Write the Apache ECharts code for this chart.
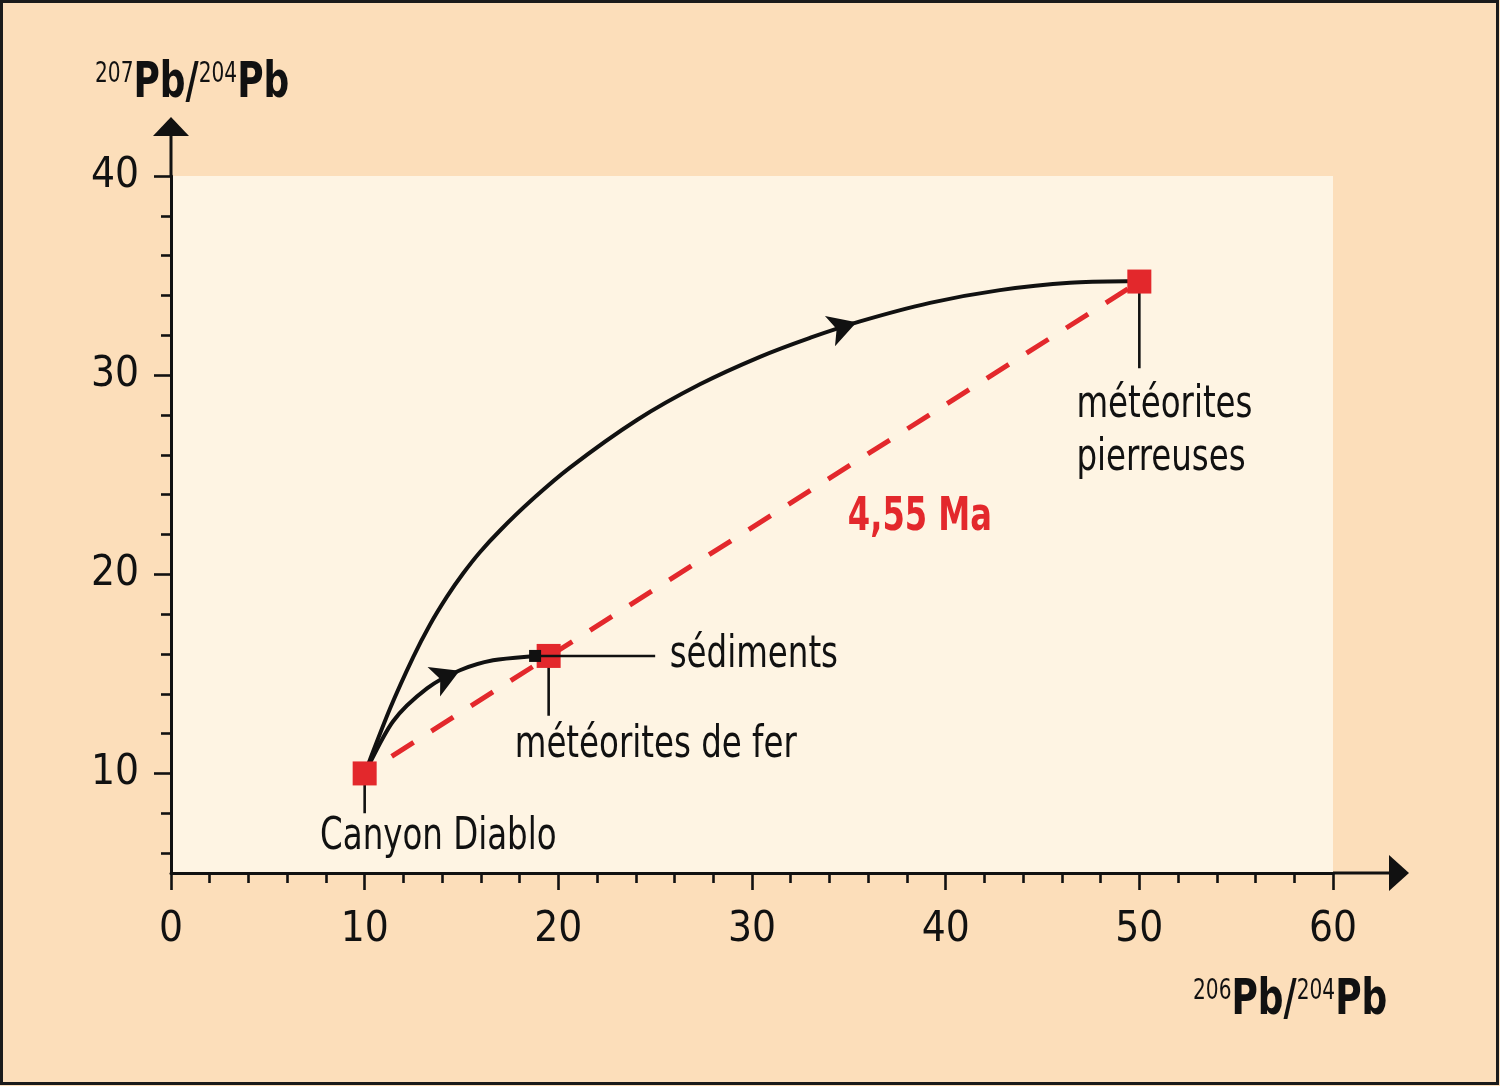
<!DOCTYPE html>
<html><head><meta charset="utf-8">
<script src="https://cdn.jsdelivr.net/npm/echarts@6/dist/echarts.min.js"></script>
<style>html,body{margin:0;padding:0;background:#FCDEBA}#c{width:1500px;height:1086px}</style>
</head><body><div id="c"></div>
<script>
// ---------- data ----------
const xTicksMajor = [0, 10, 20, 30, 40, 50, 60];
const yTicksMajor = [10, 20, 30, 40];
const yTicksMinor = [6, 8, 12, 14, 16, 18, 22, 24, 26, 28, 32, 34, 36, 38];

const isochron = [[10, 10], [50, 34.7]];
const bigCurve = [[10, 10], [11.31, 13.26], [12.5, 15.83], [13.37, 17.47], [14.25, 18.88], [15.08, 20.04],
  [15.95, 21.11], [16.99, 22.2], [18.54, 23.65], [20.6, 25.36], [24.06, 27.75], [27.31, 29.54],
  [30.41, 30.92], [32.99, 31.87], [35.58, 32.7], [39.19, 33.63], [42.8, 34.27], [46.42, 34.64], [50, 34.72]];
const smallCurve = [[10, 10], [11.46, 12.61], [13.22, 14.27], [14.92, 15.18], [16.63, 15.68], [18.8, 15.9]];
const samples = [[10, 10], [19.5, 15.9], [50, 34.7]];
const sediment = [[18.8, 15.9]];
const arrowAt = [[14.9, 15.15], [35.4, 32.65]];
const leaders = [
  [[10, 10], [10, 8.0]],
  [[19.5, 15.9], [19.5, 12.9]],
  [[18.8, 15.9], [25, 15.9]],
  [[50, 34.7], [50, 30.35]]
];
const labelTexts = ['Canyon Diablo', 'météorites de fer', 'sédiments', 'météorites\npierreuses', '4,55 Ma'];
const labelAt = [[7.7, 6.8], [17.75, 11.4], [25.75, 15.93], [46.75, 27.15], [34.95, 22.86]];
const yTitle = ['207', 'Pb/', '204', 'Pb'];
const xTitle = ['206', 'Pb/', '204', 'Pb'];

// ---------- style ----------
const FONT = "'DejaVu Sans Condensed','Liberation Sans Narrow','Noto Sans',sans-serif";
const RED = '#E3282C';
const INK = '#111111';

const chart = echarts.init(document.getElementById('c'));

// smooth path through pixel points (Catmull-Rom -> cubic Bezier)
function smoothPath(pts) {
  let d = 'M' + pts[0][0] + ' ' + pts[0][1];
  for (let i = 0; i < pts.length - 1; i++) {
    const p0 = pts[Math.max(0, i - 1)], p1 = pts[i], p2 = pts[i + 1], p3 = pts[Math.min(pts.length - 1, i + 2)];
    const c1x = p1[0] + (p2[0] - p0[0]) / 6, c1y = p1[1] + (p2[1] - p0[1]) / 6;
    const c2x = p2[0] - (p3[0] - p1[0]) / 6, c2y = p2[1] - (p3[1] - p1[1]) / 6;
    d += ' C' + c1x + ' ' + c1y + ' ' + c2x + ' ' + c2y + ' ' + p2[0] + ' ' + p2[1];
  }
  return d;
}
function curveSeries(curve) {
  return {
    type: 'custom', data: curve, silent: true, z: 3, clip: false,
    renderItem: function (params, api) {
      if (params.dataIndex !== 0) return null;
      const pts = curve.map(p => api.coord(p));
      return { type: 'path', shape: { pathData: smoothPath(pts) },
        style: { fill: 'none', stroke: INK, lineWidth: 4, lineJoin: 'round', lineCap: 'round' } };
    }
  };
}

const leaderSeries = leaders.map((d, i) => ({
  type: 'line', data: d, symbol: 'none', silent: true, z: i === 2 ? 6 : 4,
  lineStyle: { color: INK, width: 2.6 }
}));

const option = {
  backgroundColor: '#FCDEBA',
  animation: false,
  grid: { left: 171, right: 167, top: 176, bottom: 213, show: true, backgroundColor: '#FEF4E3', borderWidth: 0 },
  xAxis: {
    type: 'value', min: 0, max: 60, interval: 10,
    axisLine: { lineStyle: { color: INK, width: 3 } },
    axisTick: { length: 17, lineStyle: { color: INK, width: 2.6 } },
    minorTick: { show: true, splitNumber: 5, length: 10, lineStyle: { color: INK, width: 2.6 } },
    splitLine: { show: false }, minorSplitLine: { show: false },
    axisLabel: { color: INK, fontFamily: FONT, fontSize: 42, margin: 36 }
  },
  yAxis: [{
    type: 'value', min: 5, max: 40, position: 'left',
    axisLine: { show: true, lineStyle: { color: INK, width: 3 } },
    axisTick: { show: true, length: 17, customValues: yTicksMajor, lineStyle: { color: INK, width: 2.6 } },
    axisLabel: { customValues: yTicksMajor, color: INK, fontFamily: FONT, fontSize: 42, margin: 32 },
    splitLine: { show: false }
  }, {
    type: 'value', min: 5, max: 40, position: 'left', offset: 0,
    axisLine: { show: false },
    axisTick: { show: true, length: 10, customValues: yTicksMinor, lineStyle: { color: INK, width: 2.6 } },
    axisLabel: { show: false },
    splitLine: { show: false }
  }],
  series: [
    { type: 'line', data: isochron, symbol: 'none', silent: true, z: 2,
      lineStyle: { color: RED, width: 5, type: [26, 21], dashOffset: 15 } },
    curveSeries(bigCurve),
    curveSeries(smallCurve),
    ...leaderSeries,
    { type: 'scatter', data: samples, symbol: 'rect', symbolSize: 24, z: 5,
      itemStyle: { color: RED, opacity: 1 } },
    { type: 'scatter', data: sediment, symbol: 'rect', symbolSize: 12, z: 7,
      itemStyle: { color: INK, opacity: 1 } },
    { id: 'arrows', type: 'scatter', data: arrowAt, symbol: 'arrow', symbolSize: [24, 28], z: 7,
      itemStyle: { color: INK, opacity: 1 } }
  ]
};
chart.setOption(option);

// arrow rotations from curve tangents (pixel space)
function tangentRot(curve, p) {
  let prev = curve[0], next = curve[curve.length - 1];
  for (const c of curve) { if (c[0] < p[0] - 0.05) prev = c; }
  for (let i = curve.length - 1; i >= 0; i--) { if (curve[i][0] > p[0] + 0.05) next = curve[i]; }
  const a = chart.convertToPixel({ gridIndex: 0 }, prev);
  const b = chart.convertToPixel({ gridIndex: 0 }, next);
  return Math.atan2(-(b[1] - a[1]), b[0] - a[0]) * 180 / Math.PI - 90;
}
const arrowData = [
  { value: arrowAt[0], symbolRotate: tangentRot(smallCurve, arrowAt[0]) },
  { value: arrowAt[1], symbolRotate: tangentRot(bigCurve, arrowAt[1]) }
];

const yTop = chart.convertToPixel({ gridIndex: 0 }, [0, 40]);
const xEnd = chart.convertToPixel({ gridIndex: 0 }, [60, 5]);

function titleText(parts) {
  return '{s|' + parts[0] + '}{b|' + parts[1] + '}{s|' + parts[2] + '}{b|' + parts[3] + '}';
}
const rich = {
  b: { fontFamily: FONT, fontWeight: 'bold', fontSize: 50, lineHeight: 56, fill: INK },
  s: { fontFamily: FONT, fontSize: 28, verticalAlign: 'top', fill: INK, padding: [5, 0, 0, 0] }
};

const labelGraphics = labelTexts.map((t, i) => {
  const p = chart.convertToPixel({ gridIndex: 0 }, labelAt[i]);
  const isAge = i === 4;
  return {
    type: 'text', z: 12, x: p[0], y: p[1], scaleX: isAge ? 0.76 : 0.82,
    style: {
      text: t, fill: isAge ? RED : INK, fontFamily: FONT, fontSize: isAge ? 47 : 44,
      fontWeight: isAge ? 'bold' : 'normal', lineHeight: 53, align: 'left', verticalAlign: 'middle'
    }
  };
});

chart.setOption({
  series: [{ id: 'arrows', data: arrowData }],
  graphic: [
    { type: 'line', z: 10, shape: { x1: yTop[0], y1: yTop[1], x2: yTop[0], y2: yTop[1] - 44 },
      style: { stroke: INK, lineWidth: 3 } },
    { type: 'polygon', z: 10, shape: { points: [[yTop[0], yTop[1] - 59], [yTop[0] - 18, yTop[1] - 40], [yTop[0] + 18, yTop[1] - 40]] },
      style: { fill: INK } },
    { type: 'line', z: 10, shape: { x1: xEnd[0], y1: xEnd[1], x2: xEnd[0] + 60, y2: xEnd[1] },
      style: { stroke: INK, lineWidth: 3 } },
    { type: 'polygon', z: 10, shape: { points: [[xEnd[0] + 76, xEnd[1]], [xEnd[0] + 56, xEnd[1] - 18], [xEnd[0] + 56, xEnd[1] + 18]] },
      style: { fill: INK } },
    { type: 'text', z: 10, x: 95, y: 56, scaleX: 0.8,
      style: { text: titleText(yTitle), rich: rich, fill: INK, align: 'left', verticalAlign: 'top' } },
    { type: 'text', z: 10, x: 1193, y: 973, scaleX: 0.8,
      style: { text: titleText(xTitle), rich: rich, fill: INK, align: 'left', verticalAlign: 'top' } },
    ...labelGraphics,
    { type: 'rect', z: 20, shape: { x: 1.5, y: 1.5, width: 1496, height: 1082 },
      style: { fill: 'none', stroke: '#1a1a1a', lineWidth: 3 } }
  ]
});
</script></body></html>
